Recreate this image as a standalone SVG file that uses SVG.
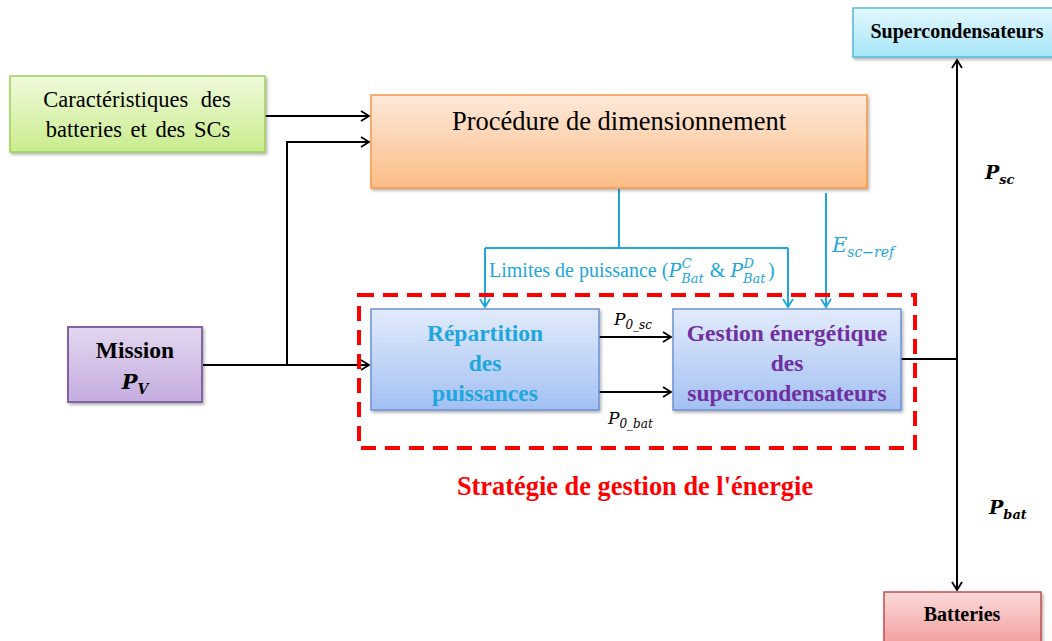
<svg xmlns="http://www.w3.org/2000/svg" width="1052" height="641" viewBox="0 0 1052 641">
<defs>
  <linearGradient id="gGreen" x1="0" y1="0" x2="0" y2="1"><stop offset="0" stop-color="#f0fadc"/><stop offset="1" stop-color="#c9ec8c"/></linearGradient>
  <linearGradient id="gOrange" x1="0" y1="0" x2="0" y2="1"><stop offset="0" stop-color="#fde9da"/><stop offset="1" stop-color="#fbbd86"/></linearGradient>
  <linearGradient id="gPurple" x1="0" y1="0" x2="0" y2="1"><stop offset="0" stop-color="#e3d6ef"/><stop offset="1" stop-color="#c5ade0"/></linearGradient>
  <linearGradient id="gBlue" x1="0" y1="0" x2="0" y2="1"><stop offset="0" stop-color="#e2ebfb"/><stop offset="1" stop-color="#a3c0f3"/></linearGradient>
  <linearGradient id="gCyan" x1="0" y1="0" x2="0" y2="1"><stop offset="0" stop-color="#e3f8fe"/><stop offset="1" stop-color="#a5e5f9"/></linearGradient>
  <linearGradient id="gRed" x1="0" y1="0" x2="0" y2="1"><stop offset="0" stop-color="#fbdada"/><stop offset="1" stop-color="#f29b9b"/></linearGradient>
  <filter id="sh" x="-10%" y="-10%" width="130%" height="140%"><feDropShadow dx="1.5" dy="2" stdDeviation="1.5" flood-color="#000" flood-opacity="0.3"/></filter>
  <marker id="ak" markerWidth="12" markerHeight="12" refX="9" refY="6" orient="auto" markerUnits="userSpaceOnUse"><path d="M1,1 L9,6 L1,11" fill="none" stroke="#000" stroke-width="1.8"/></marker>
  <marker id="ab" markerWidth="12" markerHeight="12" refX="9" refY="6" orient="auto" markerUnits="userSpaceOnUse"><path d="M1,1 L9,6 L1,11" fill="none" stroke="#1ea6de" stroke-width="1.8"/></marker>
  <style>
    text{font-family:"Liberation Serif","Times New Roman",serif;}
    .lk{fill:none;stroke:#000;stroke-width:2;}
    .lb{fill:none;stroke:#1ea6de;stroke-width:2;}
    .bt{font-weight:bold;font-size:23.5px;text-anchor:middle;}
    .math{font-family:"DejaVu Serif",serif;font-style:italic;}
  </style>
</defs>

<g id="connectors">
  <path class="lk" d="M265,116 H369" marker-end="url(#ak)"/>
  <path class="lk" d="M287,365 V142 H369" marker-end="url(#ak)"/>
  <path class="lk" d="M202,365 H369" marker-end="url(#ak)"/>
  <path class="lk" d="M599,337 H671" marker-end="url(#ak)"/>
  <path class="lk" d="M599,392 H671" marker-end="url(#ak)"/>
  <path class="lk" d="M901,359 H957"/>
  <path class="lk" d="M957,359 V60" marker-end="url(#ak)"/>
  <path class="lk" d="M957,359 V590" marker-end="url(#ak)"/>
  <path class="lb" d="M619,189 V248"/>
  <path class="lb" d="M485,248 H788"/>
  <path class="lb" d="M485,248 V307" marker-end="url(#ab)"/>
  <path class="lb" d="M788,248 V307" marker-end="url(#ab)"/>
  <path class="lb" d="M826,193 V307" marker-end="url(#ab)"/>
</g>

<g id="caracteristiques">
  <rect x="10" y="76" width="255" height="76" fill="url(#gGreen)" stroke="#9bd05a" stroke-width="1.5" filter="url(#sh)"/>
  <text x="137" y="107" font-size="22.5" text-anchor="middle" word-spacing="7">Caractéristiques des</text>
  <text x="138" y="137" font-size="22.5" text-anchor="middle" word-spacing="3">batteries et des SCs</text>
</g>

<g id="procedure">
  <rect x="371" y="95" width="496" height="93" fill="url(#gOrange)" stroke="#f79646" stroke-width="1.5" filter="url(#sh)"/>
  <text x="619" y="130" font-size="26.5" text-anchor="middle">Procédure de dimensionnement</text>
</g>

<g id="mission">
  <rect x="68" y="327" width="134" height="75" fill="url(#gPurple)" stroke="#8064a2" stroke-width="2" filter="url(#sh)"/>
  <text class="bt" x="135" y="358" fill="#000" font-size="23">Mission</text>
  <text class="math" x="135" y="389" font-size="21" font-weight="bold" text-anchor="middle">P<tspan font-size="14" dy="5">V</tspan></text>
</g>

<g id="repartition">
  <rect x="371" y="309" width="228" height="101" fill="url(#gBlue)" stroke="#6b91d2" stroke-width="1.5" filter="url(#sh)"/>
  <text class="bt" x="485" y="341" fill="#1ea6de">Répartition</text>
  <text class="bt" x="485" y="371" fill="#1ea6de">des</text>
  <text class="bt" x="485" y="401" fill="#1ea6de">puissances</text>
</g>

<g id="gestion">
  <rect x="673" y="309" width="228" height="101" fill="url(#gBlue)" stroke="#6b91d2" stroke-width="1.5" filter="url(#sh)"/>
  <text class="bt" x="787" y="341" fill="#7030a0">Gestion énergétique</text>
  <text class="bt" x="787" y="371" fill="#7030a0">des</text>
  <text class="bt" x="787" y="401" fill="#7030a0">supercondensateurs</text>
</g>

<g id="strategie">
  <rect x="359" y="295" width="556" height="153" fill="none" stroke="#ff0000" stroke-width="4" stroke-dasharray="15 9"/>
  <text x="635" y="495" font-size="26.4" font-weight="bold" fill="#ff0000" text-anchor="middle">Stratégie de gestion de l'énergie</text>
</g>

<g id="supercondensateurs">
  <rect x="853" y="8" width="205" height="49" fill="url(#gCyan)" stroke="#5ab8d6" stroke-width="1.5" filter="url(#sh)"/>
  <text x="957" y="38" font-size="20" font-weight="bold" text-anchor="middle">Supercondensateurs</text>
</g>

<g id="batteries">
  <rect x="884" y="592" width="157" height="55" fill="url(#gRed)" stroke="#c0504d" stroke-width="1.5" filter="url(#sh)"/>
  <text x="962" y="621" font-size="20" font-weight="bold" text-anchor="middle">Batteries</text>
</g>

<g id="labels">
  <text class="math" x="985" y="179" font-size="19" font-weight="bold">P<tspan font-size="13" dy="5">sc</tspan></text>
  <text class="math" x="989" y="514" font-size="19" font-weight="bold">P<tspan font-size="13" dy="5">bat</tspan></text>
  <text class="math" x="614" y="325" font-size="17">P<tspan font-size="12" dy="4">0_sc</tspan></text>
  <text class="math" x="608" y="424" font-size="17">P<tspan font-size="12" dy="4">0_bat</tspan></text>
  <text x="489" y="277" font-size="20" fill="#1ea6de">Limites de puissance (<tspan class="math" font-size="19">P</tspan><tspan class="math" font-size="13" dy="6">Bat</tspan><tspan class="math" font-size="13" dx="-22" dy="-15">C</tspan><tspan dy="9" dx="13"> &amp; </tspan><tspan class="math" font-size="19">P</tspan><tspan class="math" font-size="13" dy="6">Bat</tspan><tspan class="math" font-size="13" dx="-22" dy="-15">D</tspan><tspan dy="9" dx="14">)</tspan></text>
  <text class="math" x="832" y="252" font-size="21" fill="#1ea6de">E<tspan font-size="14" dy="5">sc−ref</tspan></text>
</g>
</svg>
